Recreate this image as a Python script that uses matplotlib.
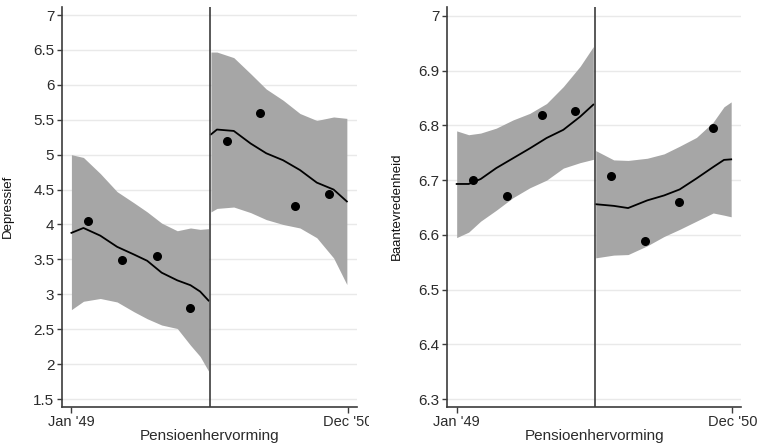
import numpy as np
import matplotlib
matplotlib.use("Agg")
import matplotlib.pyplot as plt
from matplotlib.transforms import Bbox, TransformedBbox

plt.rcParams['font.family'] = ['Liberation Sans', 'DejaVu Sans']

# x in months since Jan '49 (0 = Jan '49, 23 = Dec '50)
reform_x = 11.5
xtick_pos = [0, 23]
xtick_labels = ["Jan '49", "Dec '50"]
pts_x = [1.4, 4.2, 7.1, 9.9, 12.9, 15.7, 18.55, 21.4]

# Depressief
dep_pts = [4.05, 3.49, 3.55, 2.81, 5.19, 5.59, 4.26, 4.43]
dep_pre_x = [0, 1.0, 2.4, 3.8, 5.2, 6.3, 7.5, 8.8, 9.9, 10.7, 11.4]
dep_pre_fit = [3.88, 3.95, 3.84, 3.68, 3.57, 3.48, 3.31, 3.20, 3.13, 3.04, 2.91]
dep_pre_hi = [5.00, 4.96, 4.73, 4.47, 4.31, 4.18, 4.02, 3.91, 3.95, 3.93, 3.94]
dep_pre_lo = [2.78, 2.90, 2.94, 2.89, 2.75, 2.65, 2.56, 2.51, 2.27, 2.11, 1.90]
dep_post_x = [11.6, 12.1, 13.5, 14.9, 16.2, 17.6, 19.0, 20.4, 21.8, 22.9]
dep_post_fit = [5.29, 5.36, 5.34, 5.16, 5.02, 4.92, 4.78, 4.60, 4.50, 4.33]
dep_post_hi = [6.47, 6.47, 6.39, 6.16, 5.94, 5.78, 5.59, 5.49, 5.54, 5.52]
dep_post_lo = [4.18, 4.23, 4.25, 4.17, 4.07, 4.00, 3.95, 3.81, 3.52, 3.14]
dep_ticks = [1.5, 2, 2.5, 3, 3.5, 4, 4.5, 5, 5.5, 6, 6.5, 7]
dep_ticklabels = ['1.5', '2', '2.5', '3', '3.5', '4', '4.5', '5', '5.5', '6', '6.5', '7']

# Baantevredenheid
job_pts = [6.700, 6.671, 6.819, 6.827, 6.707, 6.589, 6.660, 6.795]
job_pre_x = [0, 1.0, 2.0, 3.3, 4.7, 6.1, 7.5, 8.9, 10.3, 11.4]
job_pre_fit = [6.693, 6.693, 6.702, 6.722, 6.740, 6.758, 6.777, 6.792, 6.816, 6.838]
job_pre_hi = [6.790, 6.783, 6.786, 6.795, 6.810, 6.822, 6.840, 6.871, 6.908, 6.944]
job_pre_lo = [6.595, 6.605, 6.625, 6.645, 6.668, 6.686, 6.700, 6.722, 6.732, 6.738]
job_post_x = [11.6, 13.1, 14.3, 15.9, 17.3, 18.6, 20.0, 21.4, 22.3, 22.9]
job_post_fit = [6.656, 6.653, 6.649, 6.663, 6.672, 6.683, 6.703, 6.724, 6.737, 6.738]
job_post_hi = [6.754, 6.737, 6.736, 6.740, 6.748, 6.762, 6.778, 6.806, 6.834, 6.843]
job_post_lo = [6.558, 6.563, 6.564, 6.580, 6.597, 6.610, 6.625, 6.640, 6.636, 6.633]
job_ticks = [6.3, 6.4, 6.5, 6.6, 6.7, 6.8, 6.9, 7]
job_ticklabels = ['6.3', '6.4', '6.5', '6.6', '6.7', '6.8', '6.9', '7']

band_col = '#a6a6a6'
axis_col = '#3c3c3c'
text_col = '#2b2b2b'

fig = plt.figure(figsize=(7.64, 4.45), dpi=100)
ax1 = fig.add_axes([0.0812, 0.0861, 0.3857, 0.8989])
ax2 = fig.add_axes([0.5855, 0.0861, 0.3844, 0.8989])


def panel(ax, pts, pre, post, ticks, ticklabels, ylim, ylabel, labx):
    for x, fit, lo, hi in (pre, post):
        ax.fill_between(x, lo, hi, color=band_col, lw=0, zorder=2)
        ax.plot(x, fit, color='black', lw=1.3, zorder=3)
    ax.scatter(pts_x, pts, s=30, color='black', zorder=4)
    ax.axvline(reform_x, color=axis_col, lw=1.2, zorder=5)

    ax.set_xlim(-0.78, 23.72)
    ax.set_ylim(*ylim)
    ax.set_xticks(xtick_pos)
    ax.set_xticklabels(xtick_labels)
    ax.set_yticks(ticks)
    ax.set_yticklabels(ticklabels)
    ax.grid(axis='y', color='#e9e9e9', lw=1, zorder=0)
    ax.set_axisbelow(True)

    for s in ['top', 'right']:
        ax.spines[s].set_visible(False)
    for s in ['left', 'bottom']:
        ax.spines[s].set_color(axis_col)
        ax.spines[s].set_linewidth(1.2)
    ax.tick_params(axis='y', length=3.6, width=1, color=axis_col, pad=2,
                   labelsize=11, labelcolor=text_col)
    ax.tick_params(axis='x', length=4.3, width=1, color=axis_col, pad=1.5,
                   labelsize=10.5, labelcolor=text_col)
    ax.set_xlabel('Pensioenhervorming', fontsize=11, color=text_col, labelpad=0)
    ax.set_ylabel(ylabel, fontsize=9.5, color='#111111')
    ax.yaxis.set_label_coords(labx, 0.5)


panel(ax1, dep_pts,
      (dep_pre_x, dep_pre_fit, dep_pre_lo, dep_pre_hi),
      (dep_post_x, dep_post_fit, dep_post_lo, dep_post_hi),
      dep_ticks, dep_ticklabels, (1.39, 7.12), 'Depressief', -0.163)
panel(ax2, job_pts,
      (job_pre_x, job_pre_fit, job_pre_lo, job_pre_hi),
      (job_post_x, job_post_fit, job_post_lo, job_post_hi),
      job_ticks, job_ticklabels, (6.286, 7.017), 'Baantevredenheid', -0.151)

# left panel's last tick label is cut off at the panel edge in the original
clip = TransformedBbox(Bbox([[0, 0], [369 / 764, 1]]), fig.transFigure)
for lab in ax1.get_xticklabels():
    lab.set_clip_box(clip)
    lab.set_clip_on(True)

fig.savefig('out.png', dpi=100)
